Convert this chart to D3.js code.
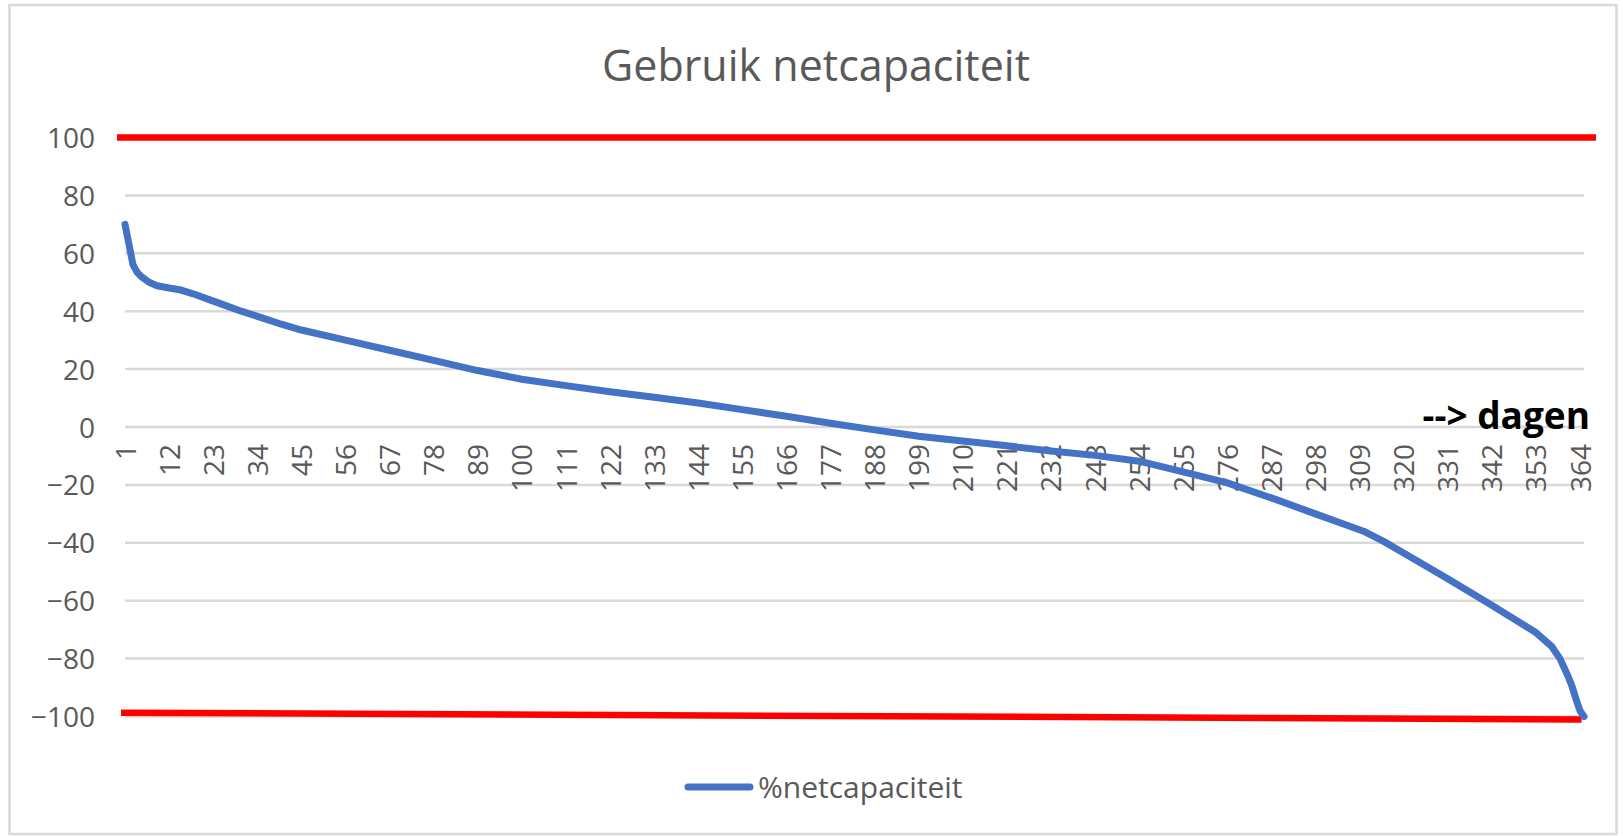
<!DOCTYPE html>
<html>
<head>
<meta charset="utf-8">
<script src="https://cdn.jsdelivr.net/npm/d3@7"></script>
<style>
  body { margin: 0; background: #fff; }
  text { font-family: "Open Sans", sans-serif; }
</style>
</head>
<body>
<div class="canvas"></div>
<script>
// sampled points of the duration curve (day -> % of net capacity)
const days = [1, 2, 3, 4, 5, 7, 9, 12, 15, 18, 22, 26, 30, 35, 40, 45, 56, 67, 78, 89, 100,
  111, 122, 133, 144, 155, 166, 177, 188, 199, 210, 221, 232, 243, 254, 265, 276, 287,
  298, 305, 310, 315, 320, 331, 342, 353, 357, 359, 361, 362, 363, 364, 365];
const netcap = [70, 63, 56, 53.5, 52, 50, 48.8, 48, 47.3, 46, 44, 42, 40, 37.8, 35.5, 33.5, 30, 26.5, 23, 19.5, 16.5,
  14.3, 12.2, 10.3, 8.3, 6, 3.7, 1.3, -1, -3.2, -4.8, -6.5, -8.3, -9.8, -11.8, -15.5, -19.3, -24.5,
  -30, -33.5, -36, -39.5, -43.5, -52.4, -61.6, -71, -75.9, -80, -86, -89.5, -94, -98, -100];

// red limit lines (day, value)
const upperLimit = [[-1, 100], [368, 100]];
const lowerLimit = [[0, -98.7], [364.4, -101]];

const xTickLabels = [1, 12, 23, 34, 45, 56, 67, 78, 89, 100, 111, 122, 133, 144, 155, 166, 177,
  188, 199, 210, 221, 232, 243, 254, 265, 276, 287, 298, 309, 320, 331, 342, 353, 364];
const yTicks = [-100, -80, -60, -40, -20, 0, 20, 40, 60, 80, 100];

const dims = { width: 1623, height: 836 };

const svg = d3
  .select(".canvas")
  .append("svg")
  .attr("width", dims.width)
  .attr("height", dims.height);

// chart frame
svg
  .append("rect")
  .attr("x", 9.5)
  .attr("y", 5)
  .attr("width", 1607)
  .attr("height", 829)
  .attr("fill", "#fff")
  .attr("stroke", "#d9d9d9")
  .attr("stroke-width", 2.5);

const x = d3.scaleLinear().domain([1, 365]).range([125, 1584]);
const y = d3.scaleLinear().domain([-100, 100]).range([716.5, 137.5]);

// gridlines
svg
  .append("g")
  .selectAll("line")
  .data(yTicks)
  .join("line")
  .attr("x1", x(1))
  .attr("x2", x(365))
  .attr("y1", (d) => y(d))
  .attr("y2", (d) => y(d))
  .attr("stroke", "#d9d9d9")
  .attr("stroke-width", 2.5);

// y labels
const yAxis = svg
  .append("g")
  .attr("transform", "translate(95,0)")
  .call(d3.axisLeft(y).tickValues(yTicks).tickSize(0).tickPadding(0));
yAxis.select(".domain").remove();
yAxis
  .selectAll("text")
  .attr("font-family", "Open Sans")
  .attr("font-size", 28)
  .attr("fill", "#595959")
  .attr("dy", "0.36em");

// x labels, rotated, hanging under the 0 line
const xAxis = svg
  .append("g")
  .attr("transform", `translate(0,${y(0)})`)
  .call(d3.axisBottom(x).tickValues(xTickLabels).tickSize(0));
xAxis.select(".domain").remove();
xAxis
  .selectAll("text")
  .attr("transform", "rotate(-90)")
  .attr("text-anchor", "end")
  .attr("x", -17)
  .attr("y", 0)
  .attr("dy", "0.36em")
  .attr("font-family", "Open Sans")
  .attr("font-size", 28)
  .attr("fill", "#595959");

const line = d3
  .line()
  .x((d) => x(d[0]))
  .y((d) => y(d[1]));

svg
  .append("path")
  .attr("d", line(upperLimit))
  .attr("fill", "none")
  .attr("stroke", "#ff0000")
  .attr("stroke-width", 6.5);

svg
  .append("path")
  .attr("d", line(lowerLimit))
  .attr("fill", "none")
  .attr("stroke", "#ff0000")
  .attr("stroke-width", 6.5);

svg
  .append("path")
  .datum(days.map((d, i) => [d, netcap[i]]))
  .attr("d", line)
  .attr("fill", "none")
  .attr("stroke", "#4472c4")
  .attr("stroke-width", 7)
  .attr("stroke-linejoin", "round")
  .attr("stroke-linecap", "round");

// title
svg
  .append("text")
  .attr("x", 816)
  .attr("y", 81)
  .attr("text-anchor", "middle")
  .attr("font-size", 43)
  .attr("fill", "#595959")
  .text("Gebruik netcapaciteit");

// axis note
svg
  .append("text")
  .attr("x", 1590)
  .attr("y", 429)
  .attr("text-anchor", "end")
  .attr("font-size", 37)
  .attr("font-weight", "bold")
  .attr("fill", "#000")
  .text("--> dagen");

// legend
const legend = svg.append("g").attr("transform", "translate(0,787)");
legend
  .append("line")
  .attr("x1", 688)
  .attr("x2", 750)
  .attr("stroke", "#4472c4")
  .attr("stroke-width", 7)
  .attr("stroke-linecap", "round");
legend
  .append("text")
  .attr("x", 758)
  .attr("dy", "0.35em")
  .attr("font-size", 30)
  .attr("fill", "#595959")
  .text("%netcapaciteit");
</script>
</body>
</html>
